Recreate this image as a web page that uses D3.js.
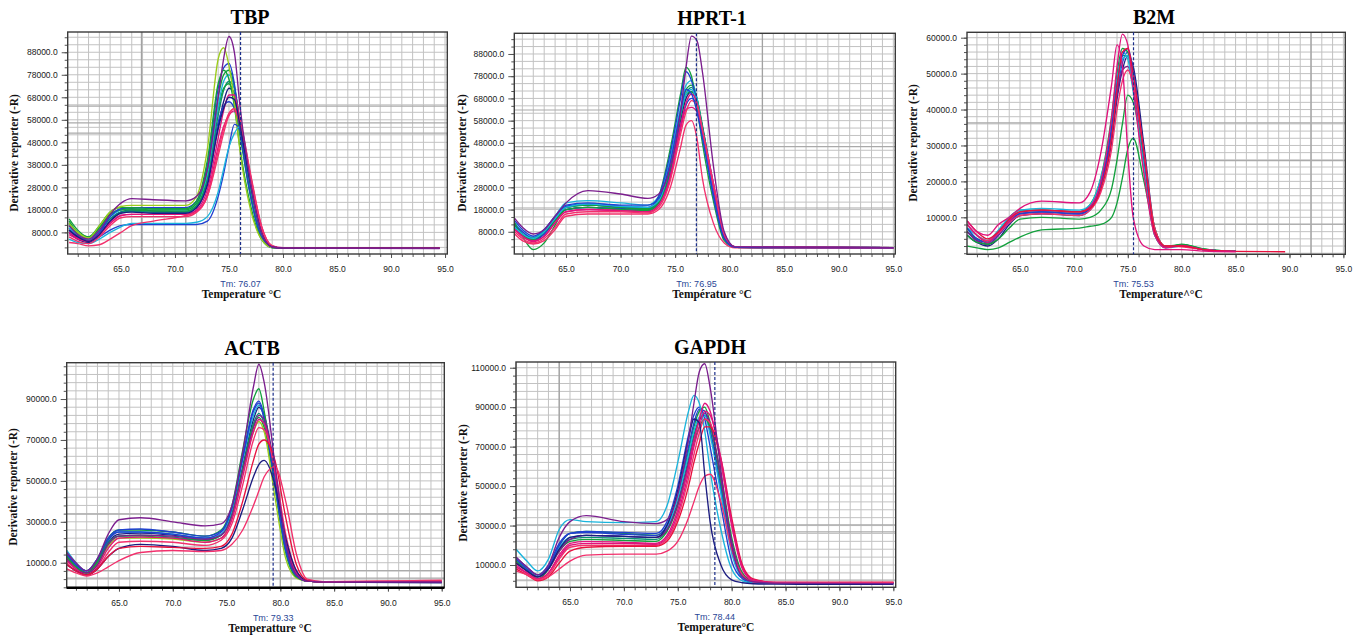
<!DOCTYPE html>
<html>
<head>
<meta charset="utf-8">
<script src="https://cdn.jsdelivr.net/npm/d3@7"></script>
<style>
    body { margin: 0; background: #fff; }
    svg { display: block; }
    .title { font-family: "Liberation Serif", "Times New Roman", serif; font-weight: bold; font-size: 20px; fill: #000; }
    .axis-title { font-family: "Liberation Serif", "Times New Roman", serif; font-weight: bold; font-size: 11.5px; fill: #111; }
    .tm { font-family: "Liberation Sans", Arial, sans-serif; font-size: 9px; fill: #2a4696; }
    .axis text { font-family: "Liberation Sans", Arial, sans-serif; font-size: 8.5px; fill: #1a1a1a; }
    .axis line { stroke: #555; }
</style>
</head>
<body>
<div id="chart"></div>
<script>
// derivative reporter values are in thousands of (-R), temperatures in °C
const xTicks = [65, 70, 75, 80, 85, 90, 95];

// ---- TBP ----
const tbpTemps = [60.2, 61, 62, 63, 64, 65, 66, 68, 71, 72, 73, 74, 74.5, 75, 75.5, 76, 77, 78, 79, 80, 94.5];
const tbpColors = ['navy', 'blue', 'teal', 'green', 'cyan', 'green', 'blue', 'green', 'lime', 'blue', 'cyan', 'magenta', 'magenta', 'pink', 'pink', 'navy', 'purple'];
const tbpCurves = [
    [8, 5, 3.5, 7, 13, 17, 18, 17.5, 17, 19, 30, 55, 66, 72, 70, 58, 30, 8, 1.5, 1, 1],
    [10, 6.5, 4.5, 8, 14, 17, 17.5, 17, 17, 19.5, 31, 57, 64, 66, 63, 52, 27, 7, 1.4, 1, 1],
    [11, 7, 5, 9, 14, 17, 17.5, 17, 17, 20, 32, 60, 71, 75, 72, 58, 28, 8, 1.5, 1, 1],
    [12, 7.5, 5, 10, 16, 18, 18, 17.5, 17.5, 20, 33, 63, 72, 74, 68, 52, 24, 6, 1.3, 1, 1],
    [10, 7, 5, 9, 15, 18, 19, 18.5, 18, 21, 34, 64, 75, 78, 72, 56, 26, 7, 1.5, 1, 1.2],
    [13, 8, 6, 10, 16, 18, 18.5, 18, 18, 21, 36, 68, 78, 80, 73, 55, 25, 6, 1.3, 1, 1],
    [9, 6, 4, 8, 15, 18.5, 19, 19, 19, 22, 38, 72, 81, 83, 74, 55, 24, 6, 1.2, 1, 1],
    [14, 9, 6, 11, 17, 19, 19, 18.5, 18.5, 22, 40, 74, 80, 76, 64, 46, 20, 5, 1.2, 1, 1],
    [12, 8, 5.5, 11, 17, 19.5, 20, 20, 20, 24, 45, 85, 90, 82, 66, 45, 18, 5, 1.2, 1, 1],
    [9, 6, 4, 6, 9, 11, 11.5, 11.5, 11.5, 11.5, 13, 24, 34, 46, 56, 54, 30, 8, 1.5, 1, 1],
    [5, 3.5, 3, 5, 8, 10.5, 12, 12, 12, 12.5, 15, 26, 36, 46, 52, 55, 33, 9, 1.5, 1, 1],
    [7, 5, 4, 7, 12, 15.5, 16, 16, 16, 18, 27, 50, 62, 69, 69, 58, 31, 9, 1.5, 1, 1],
    [8, 5.5, 4, 7, 12, 15.5, 16, 16, 16, 17.5, 25, 46, 55, 60, 62, 57, 33, 11, 2, 1.2, 1.2],
    [6, 4, 3, 6, 11, 14.5, 15, 15, 15, 17, 24, 44, 54, 61, 63, 56, 32, 10, 2, 1, 1],
    [3.5, 3, 2, 2.5, 5, 8, 11, 13, 15.5, 17, 24, 42, 52, 60, 63, 58, 34, 11, 2, 1, 1],
    [9, 6, 4, 7, 13, 16.5, 17, 16.5, 16.5, 19, 29, 54, 63, 68, 67, 56, 29, 8, 1.5, 1, 1],
    [11, 7, 5, 9, 16, 21, 23, 22.5, 22, 24, 36, 68, 85, 95, 88, 65, 30, 8, 1.5, 1, 0.8]
];
const tbpYTicks = [8, 18, 28, 38, 48, 58, 68, 78, 88];
const tbpTm = 76.07;

// ---- HPRT-1 ----
const hprtTemps = [60.3, 61, 62, 63, 64, 65, 67, 70, 72.5, 73.5, 74.5, 75.5, 76, 76.5, 77, 77.5, 78.5, 79.5, 80.5, 95];
const hprtColors = ['navy', 'blue', 'teal', 'green', 'cyan', 'green', 'blue', 'green', 'cyan', 'magenta', 'magenta', 'pink', 'pink', 'blue', 'purple'];
const hprtCurves = [
    [10, 7, 4, 7, 13, 18, 19, 18, 17.5, 21, 34, 58, 68, 71, 67, 55, 28, 6, 1, 0.8],
    [10, 6.5, 4, 7, 13, 18, 19, 18.5, 18, 21, 33, 56, 65, 68, 65, 55, 30, 7, 1.2, 0.8],
    [11, 7, 4.5, 8, 14, 19, 20, 19, 18.5, 22, 36, 60, 70, 73, 68, 56, 28, 6, 1, 0.8],
    [11, 7, 4.5, 8, 14, 19, 20, 19, 18.5, 22, 38, 62, 72, 74, 68, 55, 27, 5, 1, 0.8],
    [12, 8, 5.5, 9, 15, 21, 22, 21, 20, 24, 40, 64, 74, 76, 68, 54, 26, 5, 1, 0.8],
    [12, 6, 0, 3, 11, 19, 20, 19, 18, 24, 44, 70, 82, 78, 64, 48, 22, 4, 1, 0.8],
    [11, 8, 5, 8, 14, 19.5, 20.5, 19.5, 19, 24, 42, 68, 80, 76, 66, 52, 24, 5, 1, 0.8],
    [11, 7, 5, 8, 13, 18, 19, 18, 17.5, 21, 35, 60, 70, 71, 66, 54, 27, 5, 1, 0.8],
    [10, 7, 5, 8, 14, 19, 20.5, 19.5, 19, 22, 37, 61, 70, 72, 66, 53, 27, 6, 1, 0.8],
    [9, 6, 3.5, 6, 12, 17, 18, 17.5, 17, 20, 32, 56, 66, 70, 66, 54, 28, 6, 1, 0.8],
    [9, 6, 4, 6, 12, 17, 18, 17.5, 17, 20, 31, 54, 63, 64, 62, 53, 30, 7, 1.2, 0.8],
    [8, 5, 3, 5, 10, 16, 17, 17, 16.5, 19, 30, 52, 62, 67, 65, 54, 30, 7, 1.2, 0.8],
    [7, 4, 2.5, 4, 9, 15, 16, 16, 16, 18, 27, 46, 56, 58, 50, 32, 12, 3, 0.8, 0.6],
    [13, 9, 6, 9, 15, 20, 21, 20, 20, 23, 38, 62, 72, 70, 62, 50, 25, 5, 1, 0.8],
    [14, 10, 7, 9, 15, 21, 26.5, 25, 23, 25, 36, 62, 82, 96, 94, 80, 38, 8, 1.2, 0.8]
];
const hprtYTicks = [8, 18, 28, 38, 48, 58, 68, 78, 88];
const hprtTm = 76.95;

// ---- B2M ----
const b2mTemps = [60.1, 61, 62, 63, 64, 65, 67, 70.5, 71.5, 72.5, 73.5, 74, 74.5, 75, 75.5, 76.5, 77.5, 78.5, 80, 82, 85, 89.6];
const b2mColors = ['navy', 'blue', 'teal', 'green', 'cyan', 'purple', 'green', 'green', 'cyan', 'blue', 'pink', 'magenta', 'red', 'magenta'];
const b2mCurves = [
    [5, 3, 2, 4, 8, 10.5, 11, 10.5, 12, 18, 31, 43, 51, 55, 52, 30, 7, 2, 2, 1, 0.5, null],
    [6, 3.5, 2.5, 5, 8.5, 11, 11.5, 11, 12.5, 19, 33, 45, 53, 56, 50, 28, 6, 1.8, 2, 1, 0.5, null],
    [7, 4, 3, 6, 10, 12, 12, 11.5, 13, 20, 36, 48, 55, 55, 47, 25, 5.5, 1.6, 2.4, 1.1, 0.5, null],
    [6, 4, 3, 6, 9.5, 11.5, 12, 11.5, 13.5, 21, 38, 50, 57, 56, 46, 24, 5, 1.6, 2.5, 1.2, 0.5, null],
    [7, 5, 3.5, 6, 9, 11, 11.5, 11, 12.5, 19, 34, 46, 54, 55, 48, 26, 6, 1.8, 2.2, 1, 0.5, null],
    [6, 3.5, 2.5, 5, 9, 11, 11.5, 11, 12.5, 19, 33, 44, 51, 52, 46, 25, 5.5, 1.6, 2, 1, 0.5, null],
    [5, 3, 2.5, 4, 7, 9.5, 10, 9.5, 10, 12, 18, 26, 36, 44, 42, 26, 7, 2, 2.4, 1.2, 0.5, null],
    [2, 1.5, 1, 1.5, 3, 4.5, 6.5, 7, 7.5, 8, 10, 14, 21, 29, 32, 20, 6, 1.8, 2.2, 1, 0.5, null],
    [8, 5, 3.5, 6.5, 10, 12, 12.5, 12, 13.5, 21, 36, 48, 56, 54, 45, 24, 5, 1.5, 2, 1, 0.5, null],
    [7, 4, 3, 5.5, 9, 11, 11.5, 11, 12.5, 19.5, 35, 47, 55, 57, 51, 27, 6, 1.8, 2, 1, 0.5, null],
    [8, 5, 3.5, 5.5, 8.5, 10.5, 11, 10.5, 12, 17, 29, 40, 48, 51, 47, 28, 7, 2, 1.8, 1, 0.5, null],
    [8, 5, 3, 6, 9, 11.5, 12, 11.5, 13, 20, 38, 52, 61, 58, 46, 22, 5, 1.5, 2.2, 1, 0.5, null],
    [9, 6, 4, 6, 9.5, 11.5, 12, 11.5, 12.5, 18, 32, 46, 56, 57, 50, 28, 6, 2, 2, 1, 0.5, 0.4],
    [9, 6, 5, 8, 10, 12.5, 14.5, 14, 17, 28, 47, 58, 52, 28, 10, 2, 1, 1, 1, 0.6, 0.4, null]
];
const b2mYTicks = [10, 20, 30, 40, 50, 60];
const b2mTm = 75.53;

// ---- ACTB ----
const actbTemps = [60.15, 61, 62, 63, 64, 65, 67, 70, 73, 74.5, 75.5, 76.5, 77.5, 78, 78.5, 79.5, 80.5, 81.5, 82.5, 84, 95];
const actbColors = ['navy', 'teal', 'green', 'cyan', 'blue', 'lime', 'green', 'blue', 'purple', 'magenta', 'pink', 'navy', 'red', 'pink', 'purple'];
const actbCurves = [
    [12, 8, 5, 10, 20, 24, 24.5, 23.5, 22, 24, 34, 57, 80, 86, 82, 55, 20, 4.5, 1, 0.6, 0.6],
    [14, 8, 5, 10, 20, 23, 23.5, 22.5, 21, 23.5, 34, 56, 78, 83, 78, 50, 18, 4, 1, 0.6, 0.6],
    [13, 8, 5, 10, 19, 23, 23, 22, 21, 23.5, 34, 56, 77, 81, 76, 47, 16, 3.5, 1, 0.6, 0.6],
    [16, 10, 6, 12, 22, 25, 25, 24, 22, 24, 36, 60, 82, 87, 81, 50, 17, 4, 1, 0.7, 0.7],
    [14, 9, 6, 11, 21, 25, 25, 24, 22, 25, 37, 62, 85, 89, 82, 52, 18, 4, 1, 0.6, 0.6],
    [12, 7, 4.5, 9, 18, 22, 22, 21.5, 20, 22, 32, 54, 74, 79, 74, 42, 12, 2.5, 1, 0.6, 0.6],
    [13, 8, 5, 11, 22, 26, 26, 25, 23, 26, 38, 65, 90, 95, 84, 48, 15, 3, 1, 0.6, 0.6],
    [15, 9, 6, 12, 22, 26, 26.5, 25, 23, 25.5, 37, 61, 84, 88, 80, 48, 16, 3.5, 1, 0.6, 0.6],
    [12, 7, 5, 9, 19, 23, 23.5, 23, 21.5, 23.5, 33, 55, 76, 82, 80, 54, 21, 5, 1, 0.6, 0.6],
    [11, 7, 4, 8, 17, 22, 22.5, 22, 20, 22, 31, 52, 74, 80, 78, 54, 22, 5, 1, 0.6, 0.6],
    [10, 6, 4, 7, 15, 20, 20.5, 20, 18.5, 21, 29, 48, 70, 76, 75, 56, 24, 6, 1.2, 0.6, 0.6],
    [9, 6, 4, 7, 13, 17, 19, 18, 16, 17, 22, 36, 52, 58, 60, 48, 22, 6, 1.2, 0.6, 0.2],
    [9, 6, 4, 7, 13, 17, 18, 17.5, 17, 18, 24, 40, 60, 68, 70, 60, 32, 9, 1.5, 0.7, 1.2],
    [7, 5, 3.5, 5, 8, 11, 15, 16, 15.5, 16, 19, 26, 38, 45, 52, 57, 40, 14, 2, 0.8, 1.5],
    [15, 10, 6, 12, 24, 31, 32, 30, 28, 29, 38, 64, 96, 107, 98, 58, 20, 4, 1, 0.6, 0.6]
];
const actbYTicks = [10, 30, 50, 70, 90];
const actbTm = 79.33;

// ---- GAPDH ----
const gapdhTemps = [60, 61, 62, 63, 64, 65, 66.5, 70, 73, 74, 75, 76, 76.5, 77, 77.5, 78, 79, 80, 81, 82, 84, 95];
const gapdhColors = ['teal', 'green', 'blue', 'cyan', 'green', 'purple', 'blue', 'cyan', 'magenta', 'pink', 'red', 'magenta', 'pink', 'navy', 'purple'];
const gapdhCurves = [
    [12, 8, 4, 8, 18, 23, 24, 23.5, 23, 28, 42, 64, 76, 84, 86, 78, 50, 20, 5, 1.5, 1, 0.8],
    [13, 8, 3, 8, 20, 26, 27, 26, 25, 30, 45, 68, 80, 88, 90, 82, 52, 20, 5, 1.5, 1, 0.8],
    [14, 9, 5, 10, 21, 26, 26.5, 25.5, 25, 30, 46, 70, 82, 89, 88, 78, 48, 18, 4, 1.5, 1, 0.8],
    [13, 8, 5, 9, 19, 24, 25, 24.5, 24, 29, 44, 66, 78, 85, 86, 76, 46, 16, 3.5, 1.2, 1, 0.8],
    [12, 7, 4, 8, 17, 22, 23, 22.5, 22, 27, 40, 60, 72, 80, 84, 80, 56, 24, 6, 1.8, 1, 0.8],
    [11, 7, 4, 8, 17, 23, 25, 24.5, 24, 28, 41, 62, 74, 83, 87, 82, 54, 22, 5, 1.5, 1, 0.8],
    [13, 8, 5, 9, 20, 26, 27, 26.5, 26, 32, 50, 76, 86, 90, 84, 70, 40, 12, 3, 1, 0.8, 0.6],
    [18, 12, 7, 13, 28, 33, 32, 31.5, 32, 40, 62, 88, 96, 92, 78, 58, 28, 8, 2, 1, 0.8, 0.6],
    [10, 6, 3, 6, 15, 21, 22, 21.5, 21, 25, 38, 60, 73, 84, 92, 88, 62, 30, 8, 2, 1, 1],
    [9, 6, 3, 5, 13, 19, 20, 20, 20, 23, 34, 54, 66, 77, 84, 82, 62, 32, 9, 2.5, 1.2, 1.2],
    [8, 5, 2, 4, 11, 17, 19, 19.5, 19.5, 22, 32, 50, 62, 72, 80, 80, 64, 34, 10, 3, 1.2, 1.2],
    [9, 6, 3, 6, 14, 20, 21, 21, 20.5, 24, 36, 57, 70, 80, 88, 86, 64, 32, 9, 2.5, 1.2, 1],
    [7, 5, 2.5, 4, 8, 12, 15, 15.5, 15.5, 17, 22, 34, 42, 50, 55, 56, 42, 18, 5, 1.5, 1, 1.2],
    [11, 7, 4, 8, 18, 24, 25, 24.5, 24, 30, 48, 74, 84, 82, 56, 32, 10, 2.5, 1, 0.5, 0.3, 0.2],
    [14, 9, 5, 10, 24, 32, 35, 32, 31, 33, 46, 74, 92, 108, 112, 100, 58, 20, 4, 1.5, 0.8, 0.6]
];
const gapdhYTicks = [10, 30, 50, 70, 90, 110];
const gapdhTm = 78.44;

// ---- styling / layout ----
const palette = {
    purple: '#7b1e8e', green: '#12a03c', blue: '#2040d0', cyan: '#1ab4dc', teal: '#0a8f72',
    navy: '#1c1c80', magenta: '#e0137c', pink: '#f2306c', lime: '#9ccc1c', red: '#e8103e'
};

const panels = [
    { name: 'TBP', temps: tbpTemps, curves: tbpCurves, colors: tbpColors, yTicks: tbpYTicks, tm: tbpTm,
      xTitle: 'Temperature °C', darkX: [66.9, 71], darkY: [64.1, 56.6, 52.1],
      box: { left: 67.7, right: 447.3, top: 32, bottom: 254 }, xDomain: [60.07, 95.21], yDomain: [-1.6, 97],
      gridStep: 10 / 3, titleX: 250, yTitleX: 14, yTitleY: 153, xTitleX: 241.5 },
    { name: 'HPRT-1', temps: hprtTemps, curves: hprtCurves, colors: hprtColors, yTicks: hprtYTicks, tm: hprtTm,
      xTitle: 'Température °C', darkX: [83], darkY: [62.8, 46.3, 18.7],
      box: { left: 514.3, right: 895.3, top: 33.3, bottom: 254 }, xDomain: [60.26, 95.18], yDomain: [-2, 97.3],
      gridStep: 10 / 3, titleX: 712, yTitleX: 462, yTitleY: 153, xTitleX: 712 },
    { name: 'B2M', temps: b2mTemps, curves: b2mCurves, colors: b2mColors, yTicks: b2mYTicks, tm: b2mTm,
      xTitle: 'Temperature^°C', darkX: [92], darkY: [36.3, 25.8, 8.1],
      box: { left: 967, right: 1345.3, top: 32.3, bottom: 254.3 }, xDomain: [60.08, 95.18], yDomain: [-0.3, 61.5],
      gridStep: 2, titleX: 1154, yTitleX: 913, yTitleY: 143, xTitleX: 1161 },
    { name: 'ACTB', temps: actbTemps, curves: actbCurves, colors: actbColors, yTicks: actbYTicks, tm: actbTm,
      xTitle: 'Temperatture °C', darkX: [80], darkY: [33.8, 6.1, 2.5], heavyBottom: true,
      box: { left: 66.7, right: 444.3, top: 362.7, bottom: 587.7 }, xDomain: [60.14, 95.24], yDomain: [-2.2, 107.75],
      gridStep: 4, titleX: 252, yTitleX: 13, yTitleY: 487, xTitleX: 270 },
    { name: 'GAPDH', temps: gapdhTemps, curves: gapdhCurves, colors: gapdhColors, yTicks: gapdhYTicks, tm: gapdhTm,
      xTitle: 'Temperature°C', darkX: [64], darkY: [30.3, 26.8, 2.4],
      box: { left: 516, right: 895.7, top: 362, bottom: 587.3 }, xDomain: [59.99, 95.22], yDomain: [-1.3, 112.9],
      gridStep: 4, titleX: 710, yTitleX: 463, yTitleY: 483, xTitleX: 716 }
];

const fmt = d3.format('.1f');
const fmt2 = d3.format('.2f');

function createScaler(p) {
    let xScaler = d3.scaleLinear().domain(p.xDomain).range([p.box.left, p.box.right]);
    let yScaler = d3.scaleLinear().domain(p.yDomain).range([p.box.bottom, p.box.top]);
    return { xScaler, yScaler };
}

function gridValues(p) {
    let start = p.yTicks[0];
    while (start - p.gridStep >= p.yDomain[0]) start -= p.gridStep;
    return d3.range(start, p.yDomain[1], p.gridStep);
}

function drawGrid(svg, p, xScaler, yScaler) {
    let { left, right, top, bottom } = p.box;
    let g = svg.append('g').attr('class', 'grid');
    let xs = d3.range(Math.ceil(p.xDomain[0]), Math.floor(p.xDomain[1]) + 1);
    g.selectAll('line.v').data(xs).enter().append('line')
        .attr('x1', d => xScaler(d)).attr('x2', d => xScaler(d))
        .attr('y1', top).attr('y2', bottom)
        .attr('stroke', '#c2c2c2').attr('stroke-width', 1);
    g.selectAll('line.h').data(gridValues(p)).enter().append('line')
        .attr('x1', left).attr('x2', right)
        .attr('y1', d => yScaler(d)).attr('y2', d => yScaler(d))
        .attr('stroke', '#c2c2c2').attr('stroke-width', 1);
    g.selectAll('line.dv').data(p.darkX).enter().append('line')
        .attr('x1', d => xScaler(d)).attr('x2', d => xScaler(d))
        .attr('y1', top).attr('y2', bottom)
        .attr('stroke', '#a2a2a2').attr('stroke-width', 1.3);
    g.selectAll('line.dh').data(p.darkY).enter().append('line')
        .attr('x1', left).attr('x2', right)
        .attr('y1', d => yScaler(d)).attr('y2', d => yScaler(d))
        .attr('stroke', '#aaaaaa').attr('stroke-width', 1.2);
}

function drawCurves(svg, p, xScaler, yScaler, idx) {
    let { left, right, top, bottom } = p.box;
    let clipId = 'clip' + idx;
    svg.append('clipPath').attr('id', clipId).append('rect')
        .attr('x', left).attr('y', top).attr('width', right - left).attr('height', bottom - top);
    let line = d3.line()
        .defined(d => d[1] !== null)
        .x(d => xScaler(d[0]))
        .y(d => yScaler(d[1]))
        .curve(d3.curveMonotoneX);
    svg.append('g').attr('clip-path', `url(#${clipId})`)
        .selectAll('path')
        .data(p.curves)
        .enter()
        .append('path')
        .attr('d', c => line(c.map((v, i) => [p.temps[i], v])))
        .attr('fill', 'none')
        .attr('stroke', (c, i) => palette[p.colors[i]])
        .attr('stroke-width', 1.35)
        .attr('stroke-linejoin', 'round');
}

function drawAxes(svg, p, xScaler, yScaler) {
    let { left, right, top, bottom } = p.box;
    let minorY = d3.axisLeft(yScaler).tickValues(gridValues(p)).tickSize(3).tickFormat('');
    svg.append('g').attr('class', 'axis').attr('transform', `translate(${left},0)`).call(minorY)
        .call(g => g.select('.domain').remove());
    let yAxis = d3.axisLeft(yScaler).tickValues(p.yTicks).tickSize(6).tickPadding(4).tickFormat(d => fmt(d * 1000));
    svg.append('g').attr('class', 'axis').attr('transform', `translate(${left},0)`).call(yAxis)
        .call(g => g.select('.domain').remove());

    let minorX = d3.axisBottom(xScaler).tickValues(d3.range(61, 96)).tickSize(3).tickFormat('');
    svg.append('g').attr('class', 'axis').attr('transform', `translate(0,${bottom})`).call(minorX)
        .call(g => g.select('.domain').remove());
    let xAxis = d3.axisBottom(xScaler).tickValues(xTicks).tickSize(4).tickPadding(8).tickFormat(fmt);
    svg.append('g').attr('class', 'axis').attr('transform', `translate(0,${bottom})`).call(xAxis)
        .call(g => g.select('.domain').remove());
    svg.selectAll('.axis').attr('font-size', null).attr('font-family', null);

    svg.append('rect')
        .attr('x', left).attr('y', top).attr('width', right - left).attr('height', bottom - top)
        .attr('fill', 'none').attr('stroke', '#3a3a3a').attr('stroke-width', 1.4);
    if (p.heavyBottom) {
        svg.append('line').attr('x1', left).attr('x2', right).attr('y1', bottom).attr('y2', bottom)
            .attr('stroke', '#000').attr('stroke-width', 2.4);
    }

    // Tm marker
    svg.append('line')
        .attr('x1', xScaler(p.tm)).attr('x2', xScaler(p.tm))
        .attr('y1', top).attr('y2', bottom)
        .attr('stroke', '#1c2f8a').attr('stroke-width', 1.2).attr('stroke-dasharray', '3,2');
    svg.append('text').attr('class', 'tm')
        .attr('x', xScaler(p.tm)).attr('y', bottom + 33)
        .attr('text-anchor', 'middle')
        .text('Tm: ' + fmt2(p.tm));
}

function drawLabels(svg, p) {
    let { top, bottom } = p.box;
    svg.append('text').attr('class', 'title')
        .attr('x', p.titleX).attr('y', top - 8).attr('text-anchor', 'middle').text(p.name);
    svg.append('text').attr('class', 'axis-title')
        .attr('transform', `translate(${p.yTitleX + 4},${p.yTitleY}) rotate(-90)`)
        .attr('text-anchor', 'middle').text('Derivative reporter (-R)');
    svg.append('text').attr('class', 'axis-title')
        .attr('x', p.xTitleX).attr('y', bottom + 44).attr('text-anchor', 'middle').text(p.xTitle);
}

function drawChart() {
    let svg = d3.select('#chart').append('svg').attr('width', 1363).attr('height', 637);
    panels.forEach((p, i) => {
        let { xScaler, yScaler } = createScaler(p);
        drawGrid(svg, p, xScaler, yScaler);
        drawCurves(svg, p, xScaler, yScaler, i);
        drawAxes(svg, p, xScaler, yScaler);
        drawLabels(svg, p);
    });
}

drawChart();
</script>
</body>
</html>
